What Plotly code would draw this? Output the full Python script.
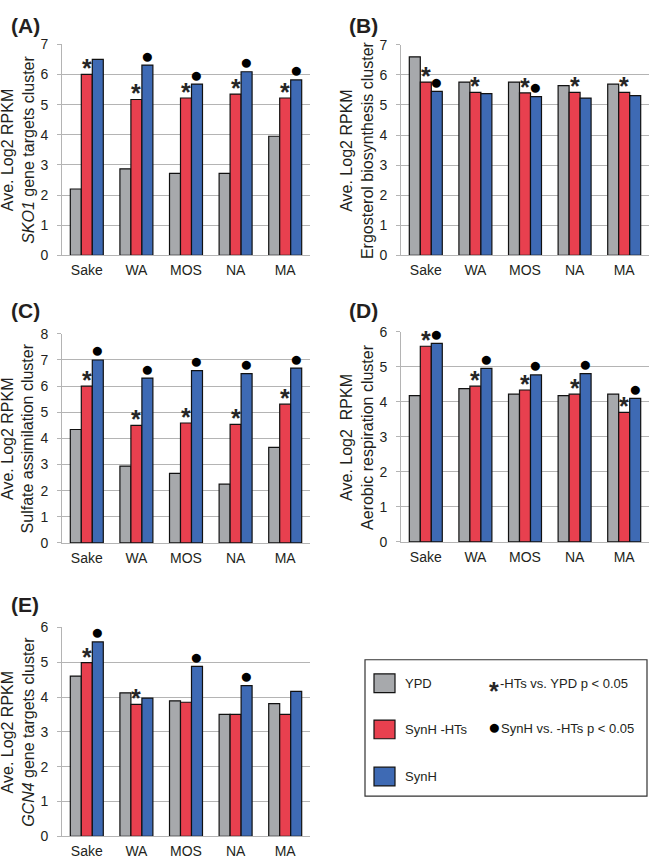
import plotly.graph_objects as go

W, H = 650, 866

categories = ["Sake", "WA", "MOS", "NA", "MA"]

# (A) SKO1 gene targets cluster
ypd_a = [2.20, 2.87, 2.72, 2.72, 3.95]
hts_a = [6.00, 5.17, 5.22, 5.35, 5.22]
synh_a = [6.50, 6.31, 5.68, 6.09, 5.82]
star_a = [1, 1, 1, 1, 1]
dot_a = [0, 1, 1, 1, 1]

# (B) Ergosterol biosynthesis cluster
ypd_b = [6.60, 5.76, 5.76, 5.64, 5.69]
hts_b = [5.76, 5.42, 5.40, 5.42, 5.42]
synh_b = [5.45, 5.38, 5.28, 5.23, 5.31]
star_b = [1, 1, 1, 1, 1]
dot_b = [1, 0, 1, 0, 0]

# (C) Sulfate assimilation cluster
ypd_c = [4.34, 2.94, 2.66, 2.25, 3.66]
hts_c = [6.00, 4.50, 4.59, 4.54, 5.31]
synh_c = [7.00, 6.31, 6.59, 6.48, 6.69]
star_c = [1, 1, 1, 1, 1]
dot_c = [1, 1, 1, 1, 1]

# (D) Aerobic respiration cluster
ypd_d = [4.18, 4.38, 4.22, 4.18, 4.22]
hts_d = [5.59, 4.45, 4.34, 4.22, 3.70]
synh_d = [5.67, 4.96, 4.77, 4.81, 4.10]
star_d = [1, 1, 1, 1, 1]
dot_d = [1, 1, 1, 1, 1]

# (E) GCN4 gene targets cluster
ypd_e = [4.60, 4.12, 3.89, 3.50, 3.81]
hts_e = [4.99, 3.79, 3.85, 3.50, 3.50]
synh_e = [5.58, 3.97, 4.88, 4.33, 4.16]
star_e = [1, 1, 0, 0, 0]
dot_e = [1, 0, 1, 1, 0]

series_names = ["YPD", "SynH -HTs", "SynH"]
colors = ["#a7a9ac", "#e8404f", "#3e6ab4"]

FONT = "Liberation Sans, Arial, sans-serif"
TXT = "#231f20"
GRID = "#b4b4b4"
BARGAP = 0.335
STAR_SIZE = 25
DOT_SIZE = 21

# pixel boxes of each panel: (x0, x1, ytop, ybottom), title x, label xy
panels = [
    dict(label="(A)", title="Ave. Log2 RPKM<br><i>SKO1</i> gene targets cluster", ymax=7,
         data=(ypd_a, hts_a, synh_a), star=star_a, dot=dot_a,
         box=(62, 310, 37, 252), tx=18, lab=(9, 18)),
    dict(label="(B)", title="Ave. Log2 RPKM<br>Ergosterol biosynthesis cluster", ymax=7,
         data=(ypd_b, hts_b, synh_b), star=star_b, dot=dot_b,
         box=(401, 649, 37.5, 252), tx=357, lab=(347, 18)),
    dict(label="(C)", title="Ave. Log2 RPKM<br>Sulfate assimilation cluster", ymax=8,
         data=(ypd_c, hts_c, synh_c), star=star_c, dot=dot_c,
         box=(62, 310, 332, 545), tx=18, lab=(9, 308)),
    dict(label="(D)", title="Ave. Log2  RPKM<br>Aerobic respiration cluster", ymax=6,
         data=(ypd_d, hts_d, synh_d), star=star_d, dot=dot_d,
         box=(401, 649, 330, 544), tx=357, lab=(347, 308)),
    dict(label="(E)", title="Ave. Log2 RPKM<br><i>GCN4</i> gene targets cluster", ymax=6,
         data=(ypd_e, hts_e, synh_e), star=star_e, dot=dot_e,
         box=(62, 310, 631, 844), tx=18, lab=(9, 608)),
]

fig = go.Figure()
annotations = []
shapes = []
layout = {}
xs = list(range(len(categories)))
step = (1 - BARGAP) / 3  # width of one bar in category units

for i, p in enumerate(panels):
    n = "" if i == 0 else str(i + 1)
    xa, ya = "x" + n, "y" + n
    x0, x1, yt, yb = p["box"]
    for k, vals in enumerate(p["data"]):
        fig.add_trace(go.Bar(
            x=xs, y=vals, name=series_names[k], xaxis=xa, yaxis=ya,
            marker=dict(color=colors[k], line=dict(color="#111111", width=1.2)),
            showlegend=False,
        ))
    layout["xaxis" + n] = dict(
        domain=[x0 / W, x1 / W], anchor=ya, range=[-0.5, len(categories) - 0.5],
        tickvals=xs, ticktext=categories, showgrid=False, zeroline=False,
        showline=True, linecolor=GRID, linewidth=1, ticks="",
        tickfont=dict(size=14, color=TXT, family=FONT), ticklabelstandoff=2,
        fixedrange=True,
    )
    layout["yaxis" + n] = dict(
        domain=[1 - yb / H, 1 - yt / H], anchor=xa, range=[0, p["ymax"]], dtick=1,
        showgrid=True, gridcolor=GRID, gridwidth=1, zeroline=False,
        showline=True, linecolor=GRID, linewidth=1, ticks="outside", ticklen=4,
        tickcolor=GRID, tickfont=dict(size=14, color=TXT, family=FONT),
        ticklabelstandoff=6,
    )
    # y axis title
    annotations.append(dict(
        text=p["title"], textangle=-90, xref="paper", x=p["tx"] / W, xanchor="center",
        yref=ya + " domain", y=0.5, yanchor="middle", showarrow=False,
        font=dict(size=16, color=TXT, family=FONT),
    ))
    # panel label
    annotations.append(dict(
        text="<b>%s</b>" % p["label"], xref="paper", yref="paper",
        x=p["lab"][0] / W, y=1 - p["lab"][1] / H, xanchor="left", yanchor="middle",
        showarrow=False, font=dict(size=21, color=TXT, family=FONT),
    ))
    # significance marks
    for j in xs:
        if p["star"][j]:
            annotations.append(dict(
                text="<b>*</b>", x=j, y=p["data"][1][j], xref=xa, yref=ya, showarrow=False,
                xanchor="center", yanchor="middle", yshift=6,
                font=dict(size=STAR_SIZE, color="#262626", family=FONT),
            ))
        if p["dot"][j]:
            annotations.append(dict(
                text="●", x=j + step, y=p["data"][2][j], xref=xa, yref=ya, showarrow=False,
                xanchor="center", yanchor="middle", yshift=10,
                font=dict(size=DOT_SIZE, color="#000000", family=FONT),
            ))


# legend box
def px(x):
    return x / W


def py(y):
    return 1 - y / H


shapes.append(dict(type="rect", xref="paper", yref="paper", x0=px(365), x1=px(647),
                   y0=py(803), y1=py(664), line=dict(color="#333333", width=1.2),
                   fillcolor="white", layer="below"))
for k, (name, yc) in enumerate(zip(series_names, [688, 735, 783])):
    shapes.append(dict(type="rect", xref="paper", yref="paper", x0=px(374), x1=px(395),
                       y0=py(yc + 9.5), y1=py(yc - 9.5), fillcolor=colors[k],
                       line=dict(color="#111111", width=1.2)))
    annotations.append(dict(text=name, xref="paper", yref="paper", x=px(403), y=py(yc),
                            xanchor="left", yanchor="middle", showarrow=False,
                            font=dict(size=13, color=TXT, family=FONT)))

annotations.append(dict(text="<b>*</b>", xref="paper", yref="paper", x=px(494), y=py(696),
                        xanchor="center", yanchor="middle", showarrow=False,
                        font=dict(size=STAR_SIZE, color="#262626", family=FONT)))
annotations.append(dict(text="-HTs vs. YPD p < 0.05", xref="paper", yref="paper",
                        x=px(498), y=py(688), xanchor="left", yanchor="middle",
                        showarrow=False, font=dict(size=13, color=TXT, family=FONT)))
annotations.append(dict(text="●", xref="paper", yref="paper", x=px(494), y=py(732),
                        xanchor="center", yanchor="middle", showarrow=False,
                        font=dict(size=DOT_SIZE, color="#000000", family=FONT)))
annotations.append(dict(text="SynH vs. -HTs p < 0.05", xref="paper", yref="paper",
                        x=px(499), y=py(734), xanchor="left", yanchor="middle",
                        showarrow=False, font=dict(size=13, color=TXT, family=FONT)))

fig.update_layout(
    width=W, height=H, margin=dict(l=0, r=0, t=0, b=0),
    paper_bgcolor="white", plot_bgcolor="white",
    barmode="group", bargap=BARGAP, bargroupgap=0,
    font=dict(family=FONT, color=TXT),
    annotations=annotations, shapes=shapes, **layout,
)

fig.write_html("out.html", config={"displayModeBar": False},
               post_script="document.body.style.margin='0';document.body.style.overflow='hidden';")
